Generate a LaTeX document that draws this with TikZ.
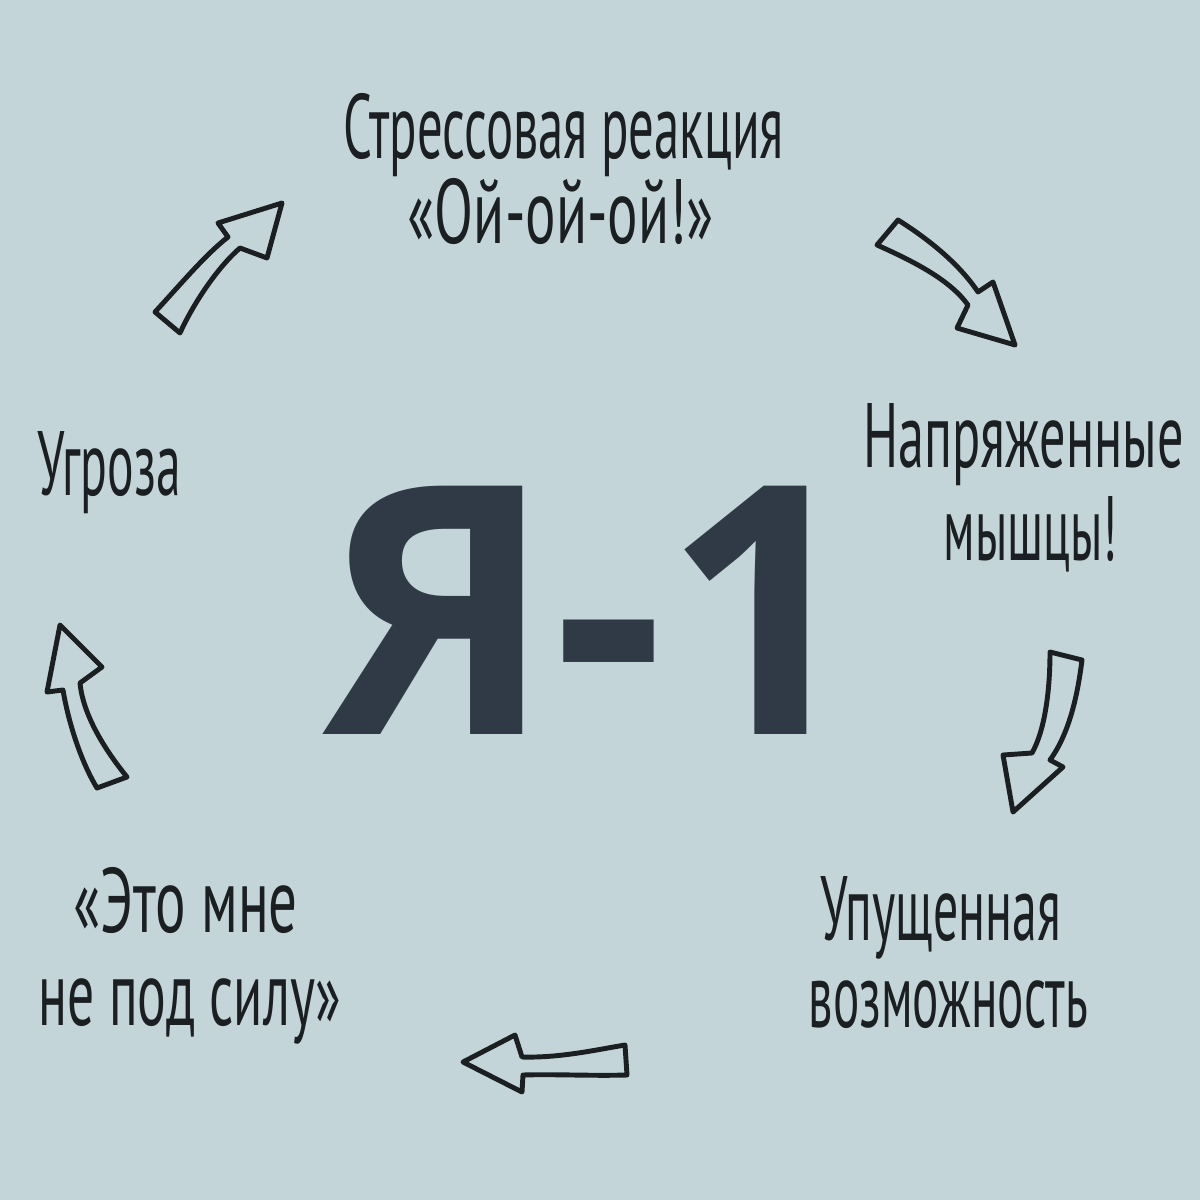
\documentclass[tikz,border=0pt]{standalone}
\usepackage{fontspec}
\usepackage{graphicx}
\newfontfamily\handfont{PT Sans}
\newfontfamily\bigfont{Open Sans}[BoldFont={* Bold}]
\definecolor{paper}{HTML}{C3D5D9}
\definecolor{ink}{HTML}{1B1F21}
\definecolor{slate}{HTML}{2F3A46}
\newcommand{\hw}[2]{\resizebox{#1}{\height}{\fontsize{26}{30}\handfont #2}}
\tikzset{
  hand/.style={inner sep=0pt, anchor=base west, text=ink},
  blockarrow/.style={draw=ink, line width=1.4pt, line join=round, fill=none}
}
\begin{document}
\begin{tikzpicture}[x=0.01cm,y=-0.01cm]
\fill[paper] (0,0) rectangle (1200,1200);
\useasboundingbox (0,0) rectangle (1200,1200);

% texts
\node[hand] (t1) at (343,158) {\hw{4.4cm}{Стрессовая реакция}};
\node[hand] (t2) at (407,243) {\hw{3.06cm}{«Ой-ой-ой!»}};
\node[hand] (t3) at (863,467) {\hw{3.2cm}{Напряженные}};
\node[hand] (t4) at (943,560) {\hw{1.74cm}{мышцы!}};
\node[hand] (t5) at (820,940) {\hw{2.4cm}{Упущенная}};
\node[hand] (t6) at (808,1027) {\hw{2.79cm}{возможность}};
\node[hand] (t7) at (73,932) {\hw{2.24cm}{«Это мне}};
\node[hand] (t8) at (38,1025) {\hw{3.02cm}{не под силу»}};
\node[hand] (t9) at (37,495) {\hw{1.43cm}{Угроза}};

% arrows
% top-left
\draw[blockarrow] (155,312) .. controls (180,285) and (205,255) .. (228,237)
  -- (218,223) -- (282,203) -- (267,258) -- (240,248)
  .. controls (220,265) and (195,300) .. (180,333) -- cycle;
% top-right
\draw[blockarrow] (898,220) .. controls (930,240) and (960,265) .. (978,292)
  -- (993,282) -- (1015,345) -- (957,328) -- (968,305)
  .. controls (950,280) and (915,262) .. (877,245) -- cycle;
% right
\draw[blockarrow] (1050,652) -- (1082,660)
  .. controls (1077,700) and (1068,735) .. (1050,760)
  -- (1063,767) -- (1013,812) -- (1003,755) -- (1032,753)
  .. controls (1045,730) and (1050,690) .. cycle;
% bottom
\draw[blockarrow] (463,1062) -- (515,1035) -- (522,1057)
  .. controls (560,1058) and (595,1050) .. (625,1045)
  -- (627,1075)
  .. controls (590,1076) and (555,1074) .. (523,1075)
  -- (522,1092) -- cycle;
% left
\draw[blockarrow] (60,625) -- (102,667) -- (80,683)
  .. controls (83,715) and (105,750) .. (127,777)
  -- (97,788)
  .. controls (80,760) and (68,720) .. (63,690)
  -- (47,692) -- cycle;

% big label
\node[inner sep=0pt, anchor=north west, text=slate] (big) at (324,485)
  {\resizebox{5.36cm}{2.48cm}{\bigfont\bfseries Я-1}};
\end{tikzpicture}
\end{document}
